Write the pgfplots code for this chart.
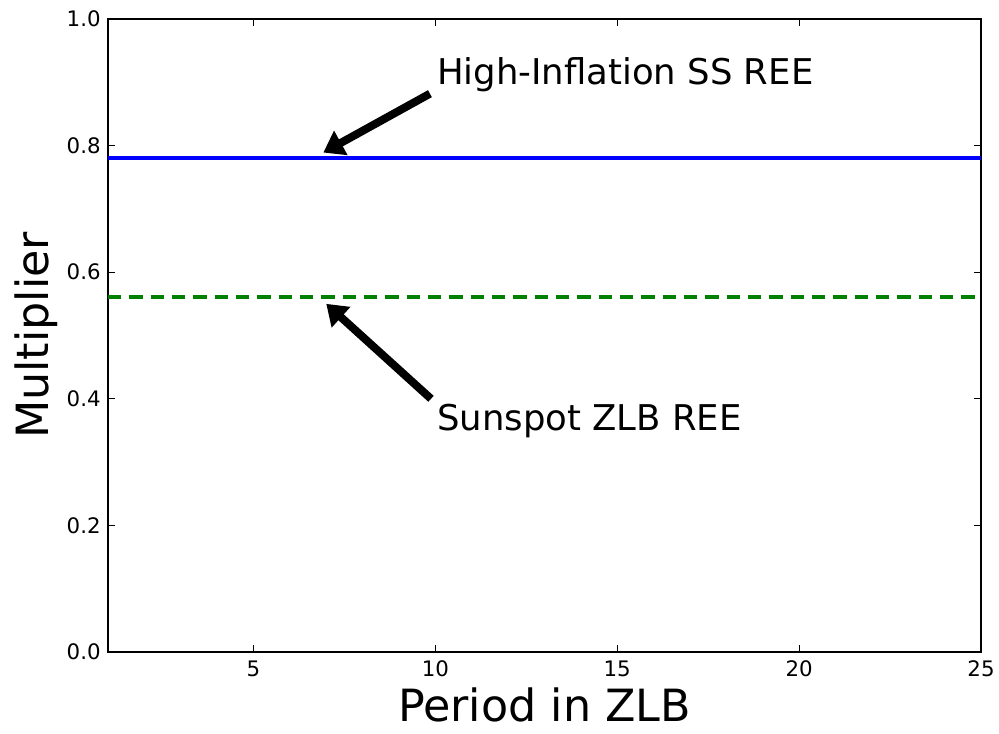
\documentclass[border=0pt]{standalone}
\usepackage{fontspec}
\setmainfont{DejaVu Sans}
\usepackage{pgfplots}
\pgfplotsset{compat=1.18}
\usetikzlibrary{arrows.meta}

\begin{document}
\begin{tikzpicture}
\begin{axis}[
  scale only axis,
  width=654.75pt, height=474.75pt,
  xmin=1, xmax=25, ymin=0, ymax=1,
  xtick={5,10,15,20,25},
  ytick={0,0.2,0.4,0.6,0.8,1.0},
  yticklabel style={/pgf/number format/fixed, /pgf/number format/fixed zerofill, /pgf/number format/precision=1, xshift=-2pt},
  /pgf/number format/assume math mode=true,
  tick label style={font=\fontsize{16}{19}\selectfont},
  xticklabel style={yshift=-3pt},
  tick align=inside,
  major tick length=5.25pt,
  tick style={black, line width=0.8pt},
  axis line style={black, line width=1.4pt},
  xlabel={Period in ZLB},
  ylabel={Multiplier},
  label style={font=\fontsize{33.3}{38}\selectfont},
  xlabel style={at={(axis description cs:0.5,0)}, anchor=base, yshift=-52.5pt},
  ylabel style={at={(axis description cs:0,0.5)}, anchor=base, yshift=44.5pt},
  clip=false,
]
  % high-inflation steady state
  \addplot[blue, line width=3pt] coordinates {(1,0.781) (25,0.781)};
  % sunspot equilibrium at the ZLB
  \addplot[green!50!black, line width=2.8pt, dash pattern=on 10pt off 6pt] coordinates {(1,0.561) (25,0.561)};

  \draw[black, line width=6pt, -{Triangle[length=15pt, width=20pt]}]
    (axis cs:9.85,0.882) -- (axis cs:6.92,0.789);
  \draw[black, line width=6pt, -{Triangle[length=15pt, width=20pt]}]
    (axis cs:9.88,0.400) -- (axis cs:7.0,0.550);

  \node[anchor=base west, inner sep=0pt, font=\fontsize{26.6}{31}\selectfont]
    at (axis cs:10.04,0.897) {High-Inflation SS REE};
  \node[anchor=base west, inner sep=0pt, font=\fontsize{26.6}{31}\selectfont]
    at (axis cs:10.04,0.350) {Sunspot ZLB REE};
\end{axis}
\pgfresetboundingbox
\path (current axis.south west) ++(-81pt,-61.5pt) coordinate (bbA);
\path (current axis.north east) ++(13.5pt,14.25pt) coordinate (bbB);
\useasboundingbox (bbA) rectangle (bbB);
\end{tikzpicture}
\end{document}
